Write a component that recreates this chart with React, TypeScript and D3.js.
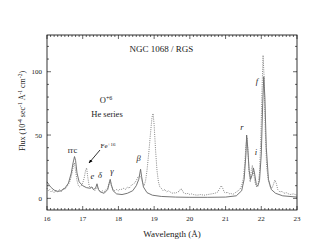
import React, { useEffect, useRef } from "react";
import * as d3 from "d3";

// model (solid) spectrum: [wavelength, flux]
const modelWave = [16.0, 16.05, 16.1, 16.2, 16.3, 16.4, 16.5, 16.6, 16.68, 16.73, 16.77, 16.8, 16.84, 16.9, 17.0, 17.1, 17.2, 17.25, 17.3, 17.36, 17.4, 17.44, 17.5, 17.6, 17.7, 17.75, 17.77, 17.8, 17.85, 17.95, 18.1, 18.25, 18.4, 18.5, 18.57, 18.62, 18.65, 18.7, 18.8, 18.95, 19.2, 19.6, 20.0, 20.5, 21.0, 21.3, 21.45, 21.52, 21.57, 21.59, 21.62, 21.66, 21.7, 21.75, 21.78, 21.81, 21.86, 21.9, 21.95, 22.0, 22.04, 22.07, 22.1, 22.14, 22.2, 22.28, 22.4, 22.6, 23.0];
const modelFlux = [13, 11, 9, 6.5, 5.5, 6, 8, 12, 20, 28, 33, 30, 20, 13, 10, 8.5, 8, 9, 7, 8, 11.5, 7, 5, 4, 7, 13, 15, 11, 6, 3.5, 3, 4, 6, 10, 15, 23, 17, 9, 4.5, 2.5, 1.5, 1, 0.8, 0.8, 1, 2, 6, 15, 35, 50, 40, 22, 15, 19, 24, 20, 11, 9.5, 14, 35, 75, 96, 80, 40, 15, 7, 4, 2, 1];

// observed (dotted) spectrum
const dataWave = [16.0, 16.04, 16.08, 16.12, 16.16, 16.2, 16.25, 16.3, 16.35, 16.4, 16.45, 16.5, 16.55, 16.6, 16.65, 16.7, 16.74, 16.77, 16.8, 16.84, 16.88, 16.92, 16.96, 17.0, 17.04, 17.08, 17.11, 17.14, 17.18, 17.22, 17.26, 17.3, 17.34, 17.38, 17.42, 17.46, 17.5, 17.55, 17.6, 17.65, 17.7, 17.74, 17.77, 17.8, 17.85, 17.9, 17.95, 18.0, 18.05, 18.1, 18.15, 18.2, 18.25, 18.3, 18.35, 18.4, 18.45, 18.5, 18.55, 18.6, 18.64, 18.68, 18.72, 18.76, 18.8, 18.85, 18.9, 18.94, 18.97, 19.0, 19.04, 19.08, 19.12, 19.16, 19.2, 19.25, 19.3, 19.35, 19.4, 19.45, 19.5, 19.55, 19.6, 19.65, 19.7, 19.74, 19.78, 19.82, 19.86, 19.9, 19.95, 20.0, 20.05, 20.1, 20.2, 20.3, 20.4, 20.5, 20.6, 20.7, 20.78, 20.84, 20.88, 20.92, 20.96, 21.0, 21.05, 21.1, 21.15, 21.2, 21.25, 21.3, 21.35, 21.4, 21.45, 21.5, 21.54, 21.57, 21.6, 21.63, 21.66, 21.69, 21.72, 21.75, 21.79, 21.83, 21.87, 21.91, 21.95, 21.99, 22.02, 22.05, 22.08, 22.11, 22.15, 22.2, 22.25, 22.3, 22.34, 22.38, 22.42, 22.46, 22.52, 22.58, 22.64, 22.7, 22.8, 22.9, 23.0];
const dataFlux = [8, 6, 7, 5, 6, 4.5, 6, 5, 7, 5.5, 8, 7, 9, 11, 14, 20, 26, 28, 22, 14, 10, 9, 10, 12, 16, 22, 24, 17, 10, 8, 9, 7, 6, 8, 9, 6, 5, 6, 5, 7, 8, 12, 14, 10, 7, 6, 7, 6, 7.5, 7, 8, 7, 9, 8, 10, 11, 12, 14, 17, 18, 16, 12, 10, 14, 22, 36, 52, 64, 67, 58, 38, 22, 13, 9, 8, 6, 7, 5, 6, 5, 4, 4.5, 4, 5, 5.5, 7.5, 7, 4.5, 4, 3.5, 4, 3, 3.5, 3, 2.5, 3, 2.5, 3, 3.5, 4, 5, 8, 10, 8, 5, 4, 5, 3.5, 4, 3, 4, 5, 6, 7, 10, 16, 28, 42, 48, 36, 20, 13, 22, 26, 19, 12, 9, 11, 20, 50, 85, 113, 95, 55, 25, 14, 9, 8, 11, 14.5, 12, 7, 5, 5.5, 4, 4.5, 3, 3.5, 2.5];

const xTicks = [16, 17, 18, 19, 20, 21, 22, 23];
const yTicks = [0, 50, 100];

const serif = "Liberation Serif";
const ink = "#222";

const App = () => {
  const svgRef = useRef<SVGSVGElement>(null);

  useEffect(() => {
    if (!svgRef.current) return;
    const svg = d3.select(svgRef.current);
    svg.selectAll("*").remove();

    const left = 47, right = 297, top = 35, bottom = 210;
    const x = d3.scaleLinear().domain([16, 23]).range([left, right]);
    const y = d3.scaleLinear().domain([-9.2, 129]).range([bottom, top]);

    const g = svg.append("g");

    // curves
    const specLine = d3.line<[number, number]>().x(d => x(d[0])).y(d => y(d[1]));
    const modelPts: [number, number][] = modelWave.map((w, i) => [w, modelFlux[i]]);
    const dataPts: [number, number][] = dataWave.map((w, i) => [w, dataFlux[i]]);

    g.append("path")
      .attr("d", specLine(modelPts))
      .attr("fill", "none")
      .attr("stroke", "#666")
      .attr("stroke-width", 0.9);

    g.append("path")
      .attr("d", specLine(dataPts))
      .attr("fill", "none")
      .attr("stroke", "#777")
      .attr("stroke-width", 0.9)
      .attr("stroke-dasharray", "1,1.2");

    // frame
    g.append("rect")
      .attr("x", left).attr("y", top)
      .attr("width", right - left).attr("height", bottom - top)
      .attr("fill", "none").attr("stroke", "#000").attr("stroke-width", 0.8);

    // x ticks (inward, top and bottom)
    d3.range(160, 231).map(v => v / 10).forEach(v => {
      const major = Math.abs(v - Math.round(v)) < 1e-6;
      const len = major ? 4 : 2;
      g.append("line").attr("x1", x(v)).attr("x2", x(v))
        .attr("y1", bottom).attr("y2", bottom - len)
        .attr("stroke", "#000").attr("stroke-width", 0.6);
      g.append("line").attr("x1", x(v)).attr("x2", x(v))
        .attr("y1", top).attr("y2", top + len)
        .attr("stroke", "#000").attr("stroke-width", 0.6);
    });

    xTicks.forEach(v => {
      g.append("text")
        .attr("x", x(v)).attr("y", 221)
        .attr("text-anchor", "middle")
        .style("font-family", serif).attr("font-size", 7).attr("fill", ink)
        .text(v);
    });

    // y ticks (inward, left and right)
    d3.range(0, 130, 10).forEach(v => {
      const len = v % 50 === 0 ? 4 : 2;
      g.append("line").attr("x1", left).attr("x2", left + len)
        .attr("y1", y(v)).attr("y2", y(v))
        .attr("stroke", "#000").attr("stroke-width", 0.6);
      g.append("line").attr("x1", right).attr("x2", right - len)
        .attr("y1", y(v)).attr("y2", y(v))
        .attr("stroke", "#000").attr("stroke-width", 0.6);
    });

    yTicks.forEach(v => {
      g.append("text")
        .attr("x", left - 5).attr("y", y(v) + 2.5)
        .attr("text-anchor", "end")
        .style("font-family", serif).attr("font-size", 7).attr("fill", ink)
        .text(v);
    });

    // axis titles
    g.append("text")
      .attr("x", 172).attr("y", 237)
      .attr("text-anchor", "middle")
      .style("font-family", serif).attr("font-size", 9).attr("fill", ink)
      .text("Wavelength (Å)");

    const yl = g.append("text")
      .attr("transform", "translate(25,111) rotate(-90)")
      .attr("text-anchor", "middle")
      .style("font-family", serif).attr("font-size", 8).attr("fill", ink);
    const sup = (t: string) => yl.append("tspan").attr("dy", -3).attr("font-size", 5.5).text(t);
    const norm = (t: string) => yl.append("tspan").attr("dy", 3).text(t);
    yl.append("tspan").text("Flux (10");
    sup("-4");
    norm(" sec");
    sup("-1");
    norm(" Å");
    sup("-1");
    norm(" cm");
    sup("-2");
    norm(")");

    // annotations
    const label = (tx: number, ty: number, t: string, size = 8.5, italic = false) =>
      g.append("text")
        .attr("x", tx).attr("y", ty)
        .attr("text-anchor", "middle")
        .style("font-family", serif).attr("font-size", size).attr("fill", ink)
        .attr("font-style", italic ? "italic" : "normal")
        .text(t);

    label(161.5, 52, "NGC 1068 / RGS", 9);

    const o6 = label(106, 103, "O", 8.5);
    o6.append("tspan").attr("dy", -3).attr("font-size", 6).text("+6");
    label(107, 117, "He series", 8.5);
    label(72.5, 153, "rrc", 8.5);

    const fe = label(108, 148, "Fe", 7);
    fe.append("tspan").attr("dy", -2.5).attr("font-size", 5).text("+16");

    // arrow Fe+16
    const defs = svg.append("defs");
    defs.append("marker")
      .attr("id", "arr").attr("viewBox", "0 0 10 10")
      .attr("refX", 9).attr("refY", 5)
      .attr("markerWidth", 5).attr("markerHeight", 5)
      .attr("orient", "auto")
      .append("path").attr("d", "M0,1 L10,5 L0,9 Z").attr("fill", "#000");
    g.append("line")
      .attr("x1", 100).attr("y1", 150)
      .attr("x2", 89).attr("y2", 163)
      .attr("stroke", "#000").attr("stroke-width", 0.8)
      .attr("marker-end", "url(#arr)");

    label(92.5, 179, "e", 8.5, true);
    label(100, 178, "δ", 8.5, true);
    label(112, 173.5, "γ", 8.5, true);
    label(138.5, 161, "β", 8.5, true);
    label(242, 130, "r", 8.5, true);
    label(256, 155, "i", 8.5, true);
    label(257, 84, "f", 8.5, true);
  }, []);

  return (
    <svg
      ref={svgRef}
      width={327}
      height={250}
      style={{ position: "absolute", left: 0, top: 0, background: "#fff" }}
    />
  );
};

export default App;
